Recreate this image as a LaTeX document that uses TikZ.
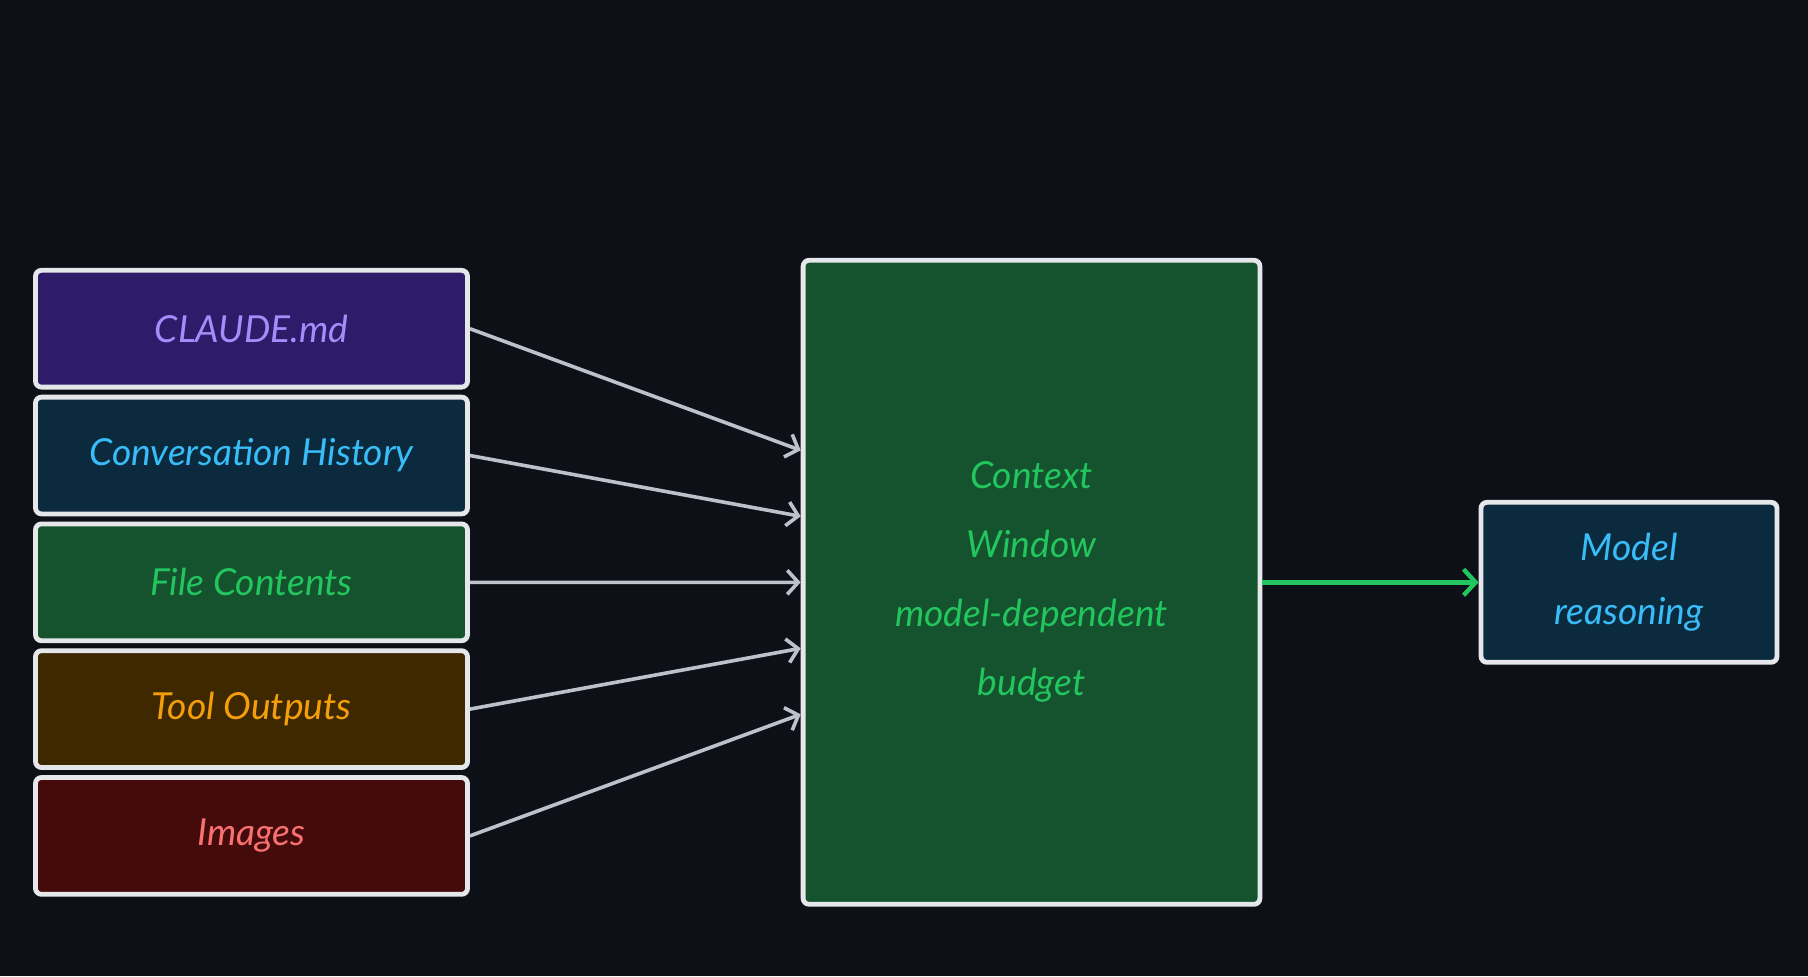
\documentclass[tikz,border=0pt]{standalone}
\usepackage{fontspec}
\setmainfont{Lato}
\usetikzlibrary{positioning,arrows.meta}

\definecolor{bgcol}{HTML}{0D1117}
\definecolor{edgecol}{HTML}{E5E7EB}
\definecolor{linkcol}{HTML}{BCC1CA}
\definecolor{claudefill}{HTML}{2E1B69}
\definecolor{claudetext}{HTML}{A78BFA}
\definecolor{histfill}{HTML}{0C2A3E}
\definecolor{histtext}{HTML}{38BDF8}
\definecolor{filefill}{HTML}{15532E}
\definecolor{filetext}{HTML}{22C55E}
\definecolor{toolfill}{HTML}{3D2800}
\definecolor{tooltext}{HTML}{F59E0B}
\definecolor{imgfill}{HTML}{450A0A}
\definecolor{imgtext}{HTML}{F87171}

\begin{document}
\begin{tikzpicture}[
    x=0.5pt, y=-0.5pt,
    box/.style={draw=edgecol, line width=2.4pt, rounded corners=3pt, inner sep=0pt,
                align=center, font=\itshape\fontsize{18.6}{34.5}\selectfont},
    source/.style={box, minimum width=216pt, minimum height=58.4pt},
    feed/.style={-{Straight Barb[length=5.5pt,width=12pt,line width=1.8pt]}, line width=1.8pt, linkcol},
    pass/.style={-{Straight Barb[length=6pt,width=13pt,line width=2.2pt]}, line width=2.2pt, filetext}
]
    % background
    \fill[bgcol] (0,0) rectangle (1808,976);

    % sources
    \node[source, fill=claudefill, text=claudetext] (claude) at (251.5,328.7) {CLAUDE.md};
    \node[source, fill=histfill, text=histtext, below=2.6pt of claude] (history) {Conversation History};
    \node[source, fill=filefill, text=filetext, below=2.6pt of history] (files) {File Contents};
    \node[source, fill=toolfill, text=tooltext, below=2.6pt of files] (tools) {Tool Outputs};
    \node[source, fill=imgfill, text=imgtext, below=2.6pt of tools] (images) {Images};

    % context window
    \node[box, fill=filefill, text=filetext, minimum width=228.4pt, minimum height=322pt]
        (ctx) at (1031.5,582.3) {Context\\Window\\model-dependent\\budget};

    % model
    \node[box, fill=histfill, text=histtext, minimum width=148pt, minimum height=80pt,
          font=\itshape\fontsize{18.6}{32.3}\selectfont]
        (model) at (1629,582.3) {Model\\reasoning};

    % feeds
    \draw[feed] (claude.east) -- ([yshift=66pt]ctx.west);
    \draw[feed] (history.east) -- ([yshift=33pt]ctx.west);
    \draw[feed] (files.east) -- (ctx.west);
    \draw[feed] (tools.east) -- ([yshift=-33pt]ctx.west);
    \draw[feed] (images.east) -- ([yshift=-66pt]ctx.west);

    \draw[pass] (ctx.east) -- (model.west);
\end{tikzpicture}
\end{document}
